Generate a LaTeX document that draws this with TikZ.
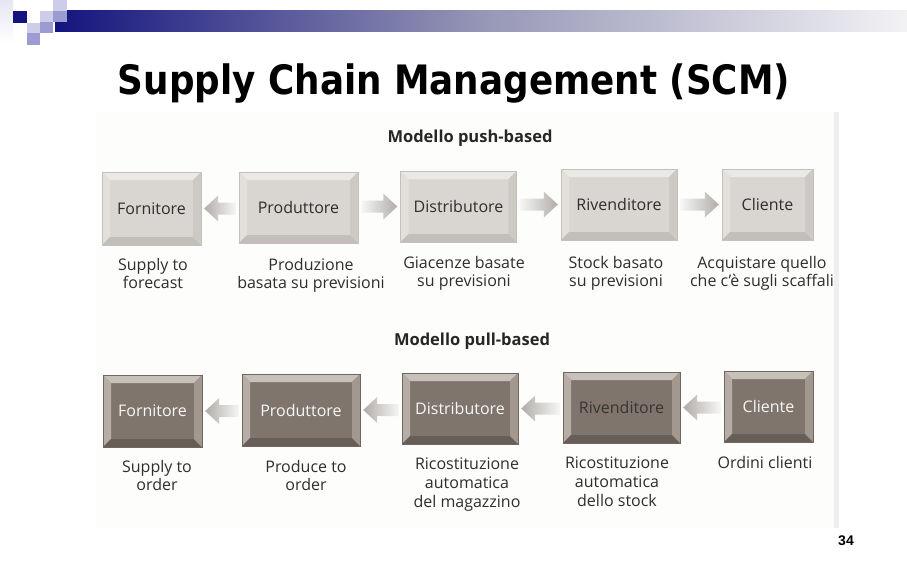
\documentclass[tikz,border=0pt]{standalone}
\usepackage{fontspec}
\setmainfont{Open Sans}
\newfontfamily\titlefont{DejaVu Sans}
\newfontfamily\pagefont{Liberation Sans}
\usetikzlibrary{calc}
\definecolor{navy}{HTML}{14147E}
\definecolor{barmid}{HTML}{9696B6}
\definecolor{barend}{HTML}{F2F2F5}
\definecolor{sqlight}{HTML}{CDCDEA}
\definecolor{sqmed}{HTML}{9C9CD2}
\definecolor{sqpale}{HTML}{E6E6F3}
\definecolor{pushface}{HTML}{D9D5D1}
\definecolor{pushtop}{HTML}{EBE9E6}
\definecolor{pushleft}{HTML}{E3E0DC}
\definecolor{pushbot}{HTML}{C3BEB9}
\definecolor{pushright}{HTML}{CDC9C4}
\definecolor{pushline}{HTML}{C4C0BB}
\definecolor{pullface}{HTML}{7F756D}
\definecolor{pulltop}{HTML}{C8C1BA}
\definecolor{pullleft}{HTML}{B6AEA6}
\definecolor{pullbot}{HTML}{675E57}
\definecolor{pullright}{HTML}{A2988F}
\definecolor{pullline}{HTML}{6F665F}
\definecolor{pulldark}{HTML}{3A3430}
\definecolor{arrowgray}{HTML}{B0ACA8}
\definecolor{captext}{HTML}{2E2E2E}
\definecolor{scanbg}{HTML}{FDFDFC}
\definecolor{scanedge}{HTML}{EFEFED}
\newsavebox\titlebox
\sbox\titlebox{\titlefont\bfseries\fontsize{40.5}{48}\selectfont Supply Chain Management (SCM)}
\newcommand\larrow[2]{\path[left color=arrowgray, right color=white!90!arrowgray] let \p1=(#1), \p2=(#2) in (\x1,\y1) -- (\x1+14pt,\y1+13pt) -- (\x1+14pt,\y1+6pt) -- (\x2,\y1+6pt) -- (\x2,\y1-6pt) -- (\x1+14pt,\y1-6pt) -- (\x1+14pt,\y1-13pt) -- cycle;}
\newcommand\rarrow[2]{\path[right color=arrowgray, left color=white!90!arrowgray] let \p1=(#1), \p2=(#2) in (\x1,\y1) -- (\x1-14pt,\y1+13pt) -- (\x1-14pt,\y1+6pt) -- (\x2,\y1+6pt) -- (\x2,\y1-6pt) -- (\x1-14pt,\y1-6pt) -- (\x1-14pt,\y1-13pt) -- cycle;}
\tikzset{
  bevel/.style n args={6}{
    fill=#1, draw=#6, line width=0.4pt, inner sep=0pt,
    path picture={
      \fill[#2] (path picture bounding box.north west) -- (path picture bounding box.north east)
        -- ([shift={(-8pt,-8pt)}]path picture bounding box.north east)
        -- ([shift={(8pt,-8pt)}]path picture bounding box.north west) -- cycle;
      \fill[#3] (path picture bounding box.north west) -- (path picture bounding box.south west)
        -- ([shift={(8pt,8pt)}]path picture bounding box.south west)
        -- ([shift={(8pt,-8pt)}]path picture bounding box.north west) -- cycle;
      \fill[#4] (path picture bounding box.south west) -- (path picture bounding box.south east)
        -- ([shift={(-8pt,8pt)}]path picture bounding box.south east)
        -- ([shift={(8pt,8pt)}]path picture bounding box.south west) -- cycle;
      \fill[#5] (path picture bounding box.north east) -- (path picture bounding box.south east)
        -- ([shift={(-8pt,8pt)}]path picture bounding box.south east)
        -- ([shift={(-8pt,-8pt)}]path picture bounding box.north east) -- cycle;
    }},
  pushbox/.style={bevel={pushface}{pushtop}{pushleft}{pushbot}{pushright}{pushline}, text=captext, font=\fontsize{16}{19}\selectfont},
  pullbox/.style={bevel={pullface}{pulltop}{pullleft}{pullbot}{pullright}{pullline}, text=white!94!pullface, font=\fontsize{16}{19}\selectfont},
  caption/.style={anchor=north, align=center, inner sep=0pt, text=captext, font=\fontsize{16}{18.6}\selectfont},
  heading/.style={inner sep=0pt, text=black!85, font=\bfseries\fontsize{16.5}{19}\selectfont},
}
\begin{document}
\begin{tikzpicture}[x=1pt,y=-1pt]
\useasboundingbox (0,0) rectangle (907,567);
\fill[white] (0,0) rectangle (907,567);
% header decoration
\shade[top color=sqpale, bottom color=white] (0,0) rectangle (13,43);
\shade[left color=navy, right color=barend, middle color=barmid] (55,11) rectangle (907,32);
\fill[navy] (13,11) rectangle (27,23);
\fill[sqlight] (27,23) rectangle (40,33);
\fill[sqmed] (27,33) rectangle (40,45);
\fill[sqlight] (40,11) rectangle (53,22);
\fill[sqmed] (40,22) rectangle (53,33);
\fill[sqlight] (53,0) rectangle (67,11);
\fill[sqmed] (53,11) rectangle (67,22);
% title
\node[anchor=base, inner sep=0pt] (title) at (454,95) {\resizebox{672pt}{\height}{\usebox\titlebox}};
% scan area
\fill[scanbg] (96,112) rectangle (838,528);
\fill[scanedge] (834,112) rectangle (839,528);
% push model
\node[heading] (pushh) at (470,138) {Modello push-based};
\node[pushbox, minimum width=99pt, minimum height=73pt] (f1) at (151.5,208.5) {Fornitore};
\node[pushbox, minimum width=119pt, minimum height=71pt] (p1) at (298.5,207.5) {Produttore};
\node[pushbox, minimum width=116pt, minimum height=71pt] (d1) at (458.5,206.5) {Distributore};
\node[pushbox, minimum width=116pt, minimum height=71pt] (r1) at (619,204.5) {Rivenditore};
\node[pushbox, minimum width=91pt, minimum height=71pt] (c1) at (767.5,204.5) {Cliente};
\larrow{[xshift=3pt]f1.east}{[xshift=-3pt]p1.west}
\rarrow{[xshift=-3pt]d1.west}{[xshift=3pt]p1.east}
\rarrow{[xshift=-3pt]r1.west}{[xshift=3pt]d1.east}
\rarrow{[xshift=-3pt]c1.west}{[xshift=3pt]r1.east}
\node[caption] (cf1) at (153,258) {Supply to\\forecast};
\node[caption] (cp1) at (311,258) {Produzione\\basata su previsioni};
\node[caption] (cd1) at (464,256) {Giacenze basate\\su previsioni};
\node[caption] (cr1) at (616,256) {Stock basato\\su previsioni};
\begin{scope}
\clip (0,0) rectangle (836,567);
\node[caption] (cc1) at (762,256) {Acquistare quello\\che c'è sugli scaffali};
\end{scope}
% pull model
\node[heading] (pullh) at (472,341) {Modello pull-based};
\node[pullbox, minimum width=99pt, minimum height=72pt] (f2) at (152.5,411) {Fornitore};
\node[pullbox, minimum width=118pt, minimum height=72pt] (p2) at (301,410) {Produttore};
\node[pullbox, minimum width=116pt, minimum height=71pt] (d2) at (460,408.5) {Distributore};
\node[pullbox, minimum width=117pt, minimum height=71pt, text=pulldark] (r2) at (621.5,407.5) {Rivenditore};
\node[pullbox, minimum width=89pt, minimum height=71pt] (c2) at (768.5,406.5) {Cliente};
\larrow{[xshift=3pt]f2.east}{[xshift=-3pt]p2.west}
\larrow{[xshift=3pt]p2.east}{[xshift=-3pt]d2.west}
\larrow{[xshift=3pt]d2.east}{[xshift=-3pt]r2.west}
\larrow{[xshift=3pt]r2.east}{[xshift=-3pt]c2.west}
\node[caption] (cf2) at (157,460) {Supply to\\order};
\node[caption] (cp2) at (306,460) {Produce to\\order};
\node[caption] (cd2) at (467,458) {Ricostituzione\\automatica\\del magazzino};
\node[caption] (cr2) at (617,457) {Ricostituzione\\automatica\\dello stock};
\node[caption] (cc2) at (765,456) {Ordini clienti};
% page number
\node[inner sep=0pt, font=\pagefont\bfseries\fontsize{14}{16}\selectfont] (pg) at (846,541) {34};
\end{tikzpicture}
\end{document}
